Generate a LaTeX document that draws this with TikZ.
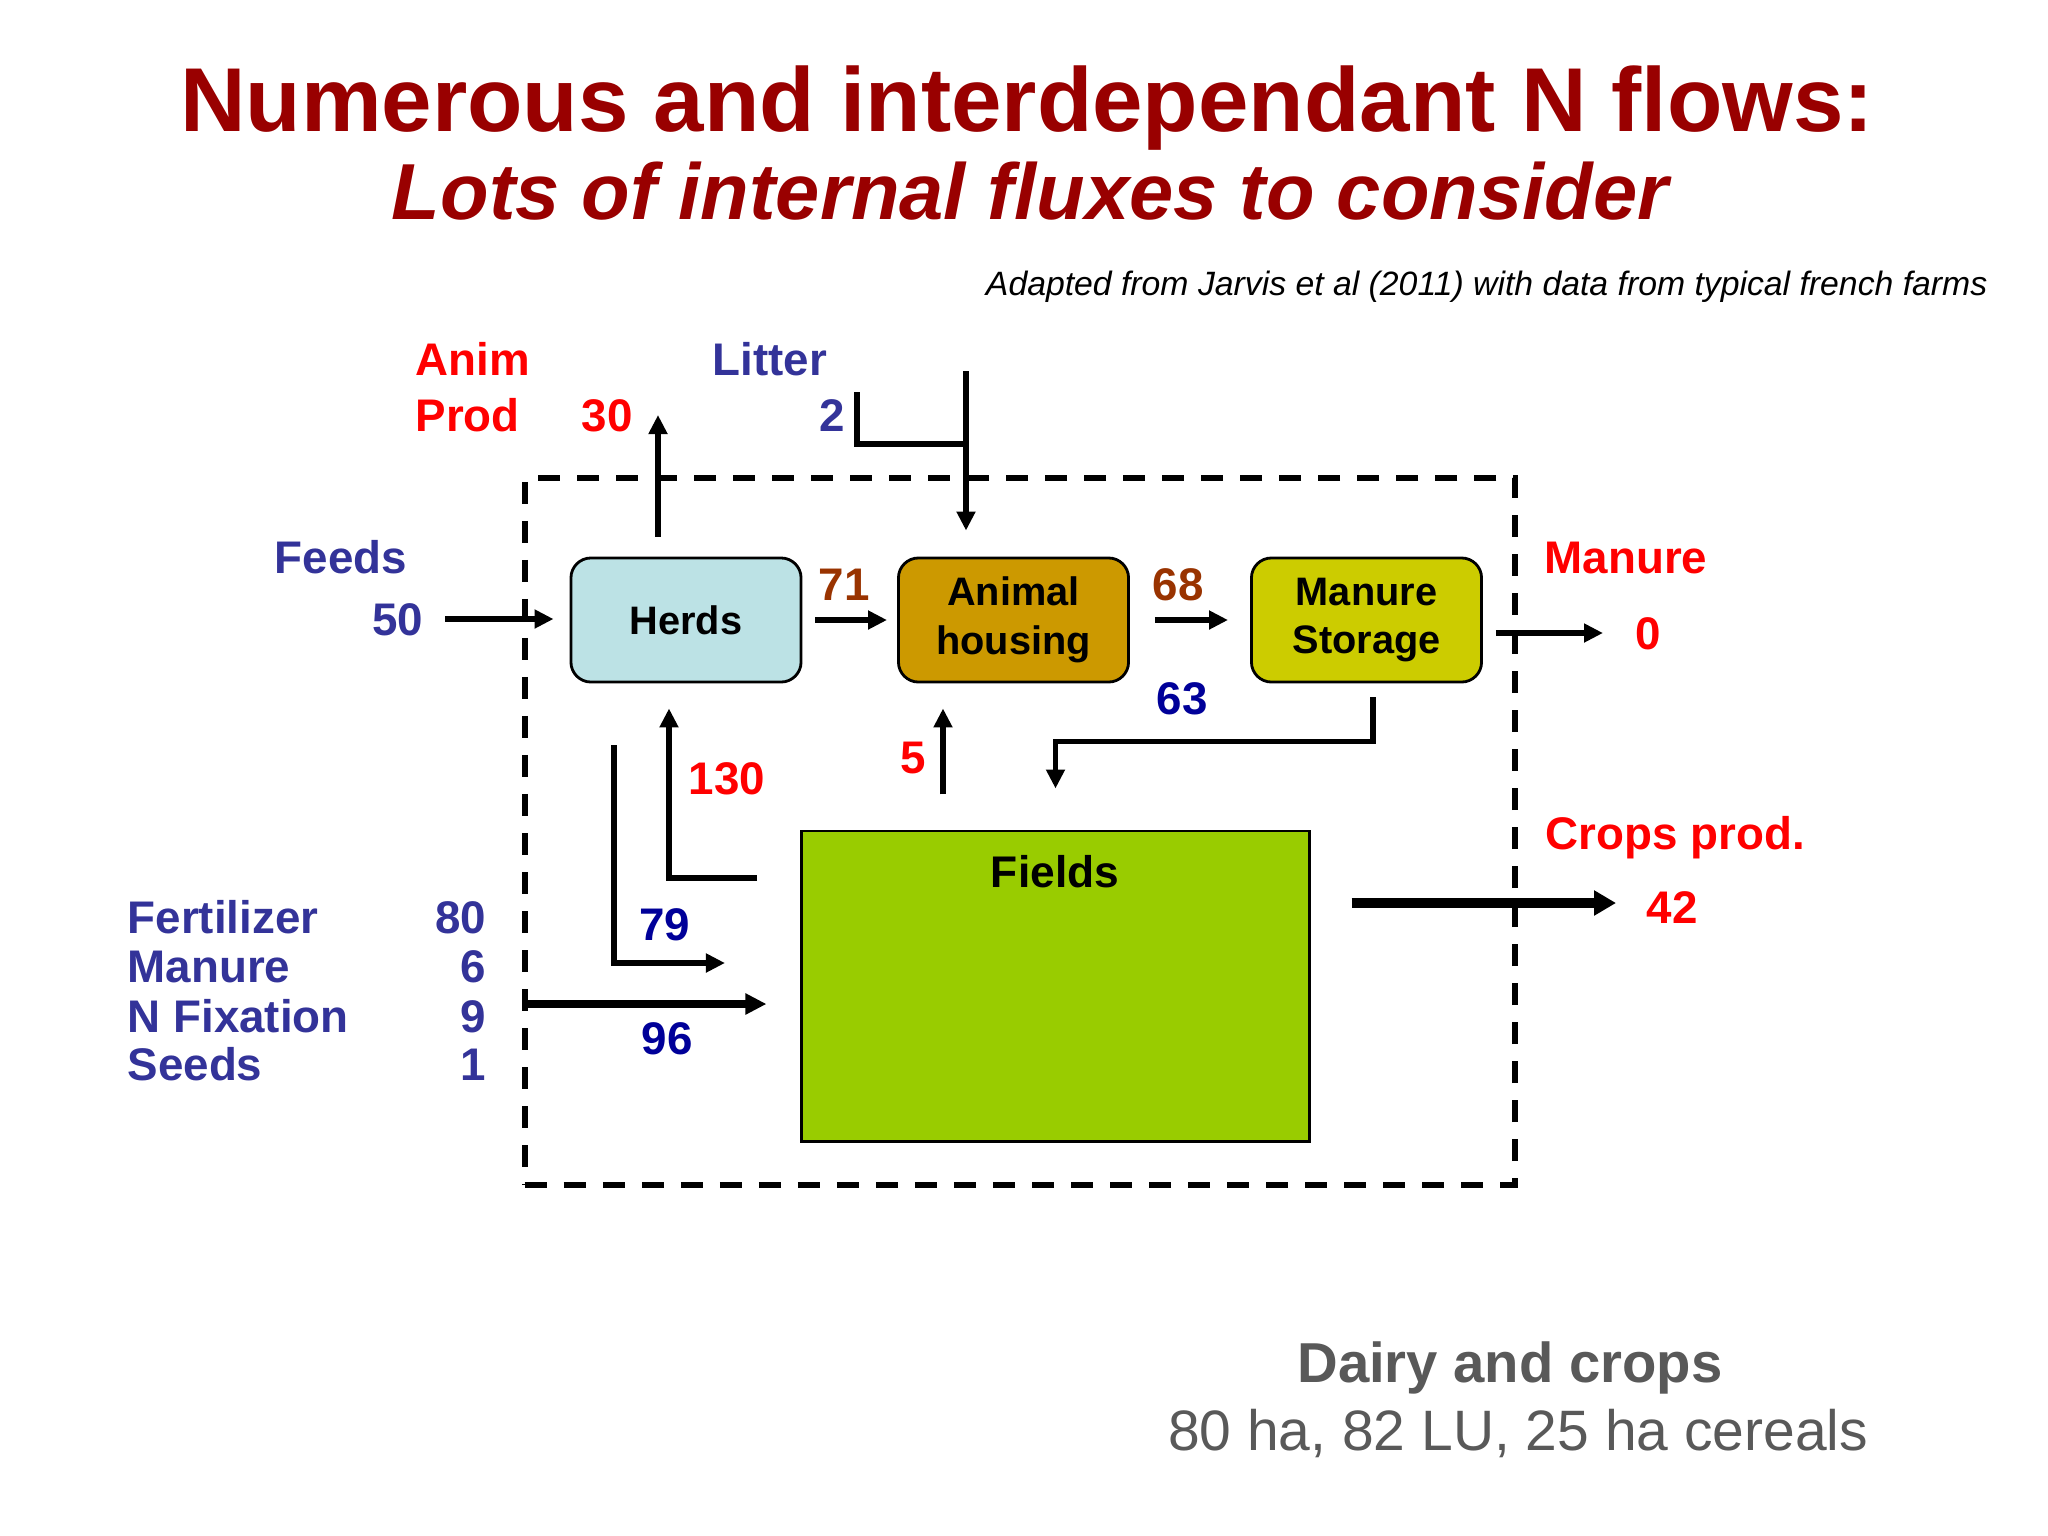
\documentclass[tikz,border=0pt]{standalone}
\usepackage{fontspec}
\setmainfont{Liberation Sans}
\usetikzlibrary{arrows.meta,calc}
\definecolor{titlered}{HTML}{990000}
\definecolor{lblred}{HTML}{FF0000}
\definecolor{lblblue}{HTML}{333399}
\definecolor{dkblue}{HTML}{000099}
\definecolor{brownnum}{HTML}{993300}
\definecolor{herdfill}{HTML}{BCE2E5}
\definecolor{ahfill}{HTML}{CC9900}
\definecolor{msfill}{HTML}{CCCC00}
\definecolor{fieldfill}{HTML}{99CC00}
\definecolor{graytxt}{HTML}{595959}
\begin{document}
\begin{tikzpicture}[x=0.01cm,y=-0.01cm,
  lbl/.style={inner sep=0pt,font=\fontsize{13}{14}\selectfont\bfseries},
  boxlbl/.style={draw=black,line width=0.8pt,rounded corners=0.2cm,minimum width=2.30cm,minimum height=1.24cm,align=center,font=\fontsize{11.3}{13.8}\selectfont\bfseries,inner sep=0pt},
  arr/.style={line width=1.6pt,-{Triangle[length=0.19cm,width=0.18cm]}},
  plain/.style={line width=1.6pt}]
\useasboundingbox[fill=white] (0,0) rectangle (2048,1536);
% titles
\node[inner sep=0pt,anchor=base,text=titlered,font=\fontsize{25.8}{30}\selectfont\bfseries] (t1) at (1027,131) {Numerous and interdependant N flows:};
\node[inner sep=0pt,anchor=base,text=titlered,font=\fontsize{22.6}{27}\selectfont\bfseries\itshape] (t2) at (1030,219) {Lots of internal fluxes to consider};
\node[inner sep=0pt,anchor=base east,font=\fontsize{9.6}{11}\selectfont\itshape] (src) at (1988,295) {Adapted from Jarvis et al (2011) with data from typical french farms};
% system boundary
\node[draw,line width=1.7pt,dash pattern=on 0.22cm off 0.17cm,minimum width=9.90cm,minimum height=7.07cm,inner sep=0pt] (farm) at (1020,831.5) {};
% boxes
\node[boxlbl,fill=herdfill] (herds) at (686,620) {Herds};
\node[boxlbl,fill=ahfill] (ah) at (1013.5,620) {Animal\\housing};
\node[boxlbl,fill=msfill] (ms) at (1366.5,620) {Manure\\Storage};
\node[draw=black,line width=0.8pt,fill=fieldfill,minimum width=5.07cm,minimum height=3.10cm,inner sep=0pt] (fields) at (1055.5,986) {};
\node[inner sep=0pt,anchor=base,font=\fontsize{12.6}{14}\selectfont\bfseries] (fieldslbl) at (1055,887) {Fields};
% labels
\node[lbl,anchor=base west,text=lblred] (anim) at (415,375) {Anim};
\node[lbl,anchor=base west,text=lblred] (prod) at (415,431) {Prod};
\node[lbl,anchor=base west,text=lblred] (n30) at (581,431) {30};
\node[lbl,anchor=base west,text=lblblue] (litter) at (712,375) {Litter};
\node[lbl,anchor=base east,text=lblblue] (n2) at (846,431) {2};
\node[lbl,anchor=base west,text=lblblue] (feeds) at (274,573) {Feeds};
\node[lbl,anchor=base east,text=lblblue] (n50) at (424,635) {50};
\node[lbl,anchor=base,text=brownnum] (n71) at (844,600) {71};
\node[lbl,anchor=base,text=brownnum] (n68) at (1178,600) {68};
\node[lbl,anchor=base,text=dkblue] (n63) at (1182,714) {63};
\node[lbl,anchor=base west,text=lblred] (manlbl) at (1544,573) {Manure};
\node[lbl,anchor=base,text=lblred] (n0) at (1648,649) {0};
\node[lbl,anchor=base,text=lblred] (n5) at (913,773) {5};
\node[lbl,anchor=base west,text=lblred] (n130) at (688,794) {130};
\node[lbl,anchor=base,text=dkblue] (n79) at (665,940) {79};
\node[lbl,anchor=base,text=dkblue] (n96) at (667,1054) {96};
\node[lbl,anchor=base west,text=lblred] (crops) at (1545,849) {Crops prod.};
\node[lbl,anchor=base,text=lblred] (n42) at (1672,923) {42};
\node[lbl,anchor=base west,text=lblblue] (fert) at (127,933) {Fertilizer};
\node[lbl,anchor=base west,text=lblblue] (manin) at (127,982) {Manure};
\node[lbl,anchor=base west,text=lblblue] (nfix) at (127,1032) {N Fixation};
\node[lbl,anchor=base west,text=lblblue] (seeds) at (127,1080) {Seeds};
\node[lbl,anchor=base east,text=lblblue] (n80) at (487,933) {80};
\node[lbl,anchor=base east,text=lblblue] (n6) at (487,982) {6};
\node[lbl,anchor=base east,text=lblblue] (n9) at (487,1032) {9};
\node[lbl,anchor=base east,text=lblblue] (n1) at (487,1080) {1};
\node[inner sep=0pt,anchor=base,text=graytxt,font=\fontsize{16}{19}\selectfont\bfseries] (dairy) at (1510,1382) {Dairy and crops};
\node[inner sep=0pt,anchor=base,text=graytxt,font=\fontsize{16.2}{19}\selectfont] (farmdata) at (1518,1450) {80 ha, 82 LU, 25 ha cereals};
% free ends
\coordinate (animout) at (658,415);
\coordinate (litA) at (857,392);
\coordinate (litC) at (966,444);
\coordinate (litD) at (966,371);
\coordinate (feedsin) at (445,619);
\coordinate (manout) at (1603,633);
\coordinate (c130) at (757,878);
\coordinate (c79end) at (725,963);
\coordinate (in96) at (525,1004);
\coordinate (cropsout) at (1616,903);
% connectors
\draw[arr] (herds.north -| animout) ++(0,-20) -- (animout);
\draw[plain] (litA) |- (litC);
\draw[arr] (litD) -- ($(ah.north)+(-47.5,-26)$);
\draw[arr] (feedsin) -- ($(herds.west)+(-16,-1)$);
\draw[arr] ($(herds.east)+(13,0)$) -- ($(ah.west)+(-10,0)$);
\draw[arr] ($(ah.east)+(25,0)$) -- ($(ms.west)+(-22,0)$);
\draw[arr] ($(ms.east)+(13,13)$) -- (manout);
\draw[arr] ($(ms.south)+(6.5,14)$) |- ($(fields.north)+(0,-88)$) -- ($(fields.north)+(0,-41)$);
\draw[arr] ($(ah.south)+(-70.5,111)$) -- ($(ah.south)+(-70.5,25)$);
\draw[arr] (c130) -| ($(herds.south)+(-17,25)$);
\draw[arr] ($(herds.south)+(-72,62)$) |- (c79end);
\draw[line width=2.2pt,-{Triangle[length=0.21cm,width=0.2cm]}] (in96) -- ($(fields.west |- in96)+(-34,0)$);
\draw[line width=3pt,-{Triangle[length=0.22cm,width=0.24cm]}] ($(fields.east |- cropsout)+(41,0)$) -- (cropsout);
\end{tikzpicture}
\end{document}
